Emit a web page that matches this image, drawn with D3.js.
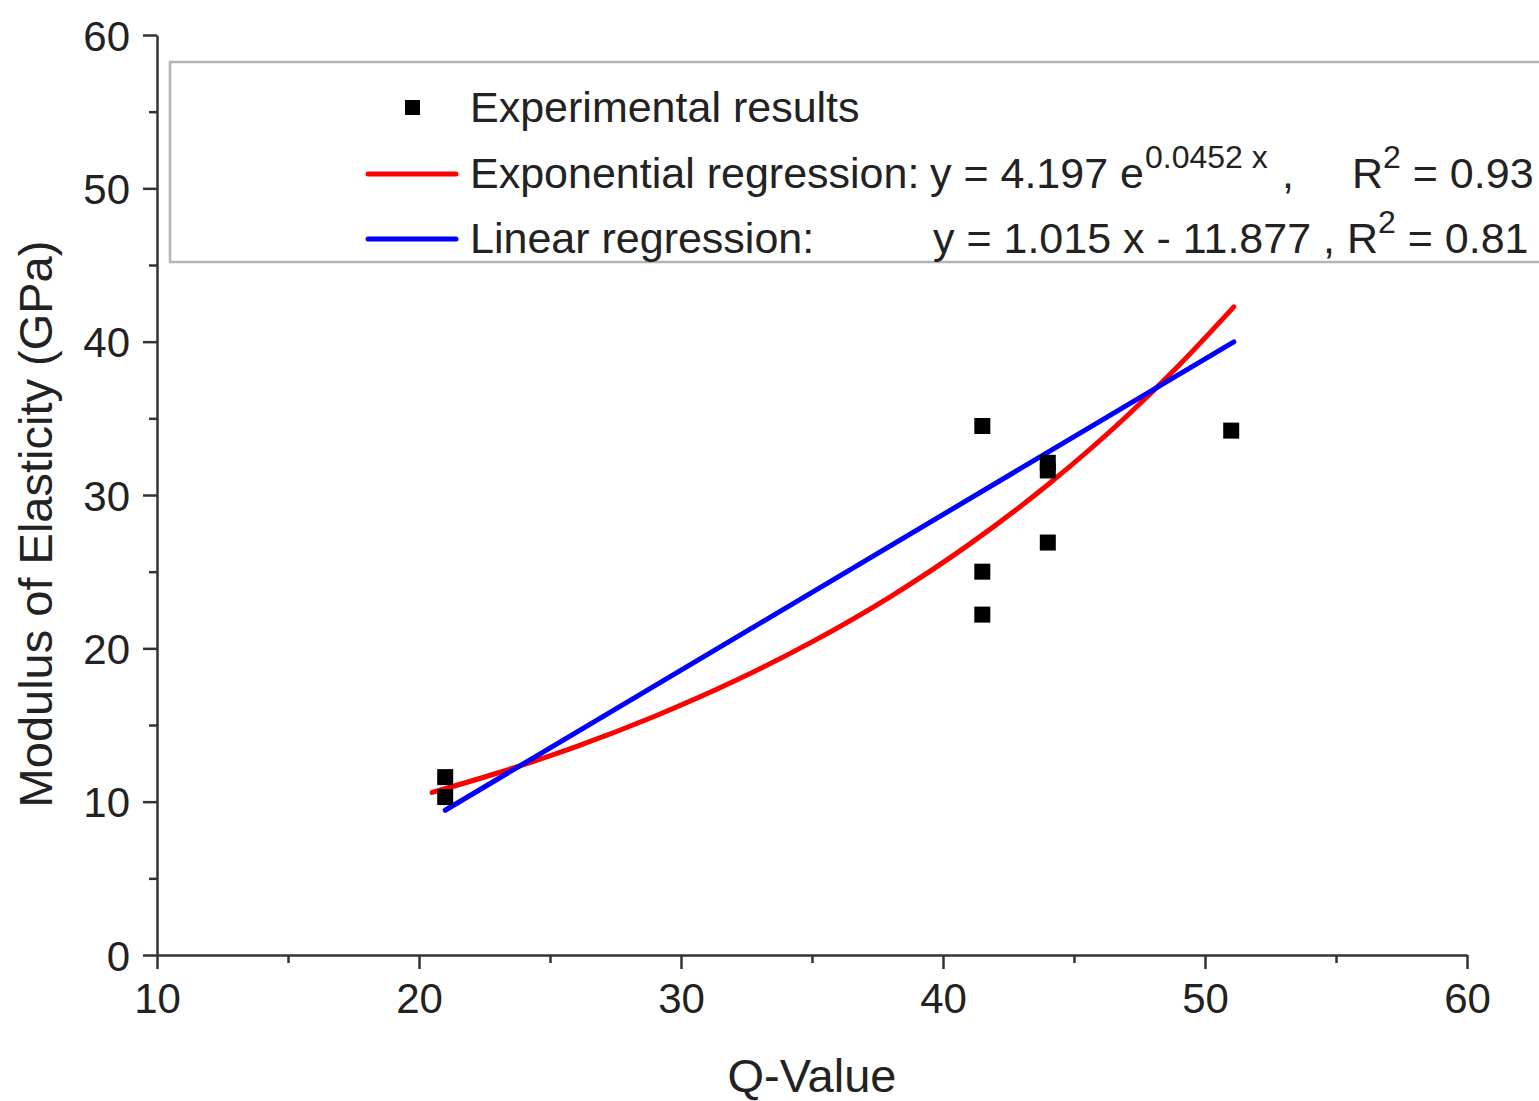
<!DOCTYPE html>
<html>
<head>
<meta charset="utf-8">
<script src="https://cdn.jsdelivr.net/npm/d3@7"></script>
<style>
    body { margin: 0; background: #fff; }
    svg { display: block; font-family: "Liberation Sans", Arial, sans-serif; }
    .axis path, .axis line { stroke: #333; stroke-width: 2.5; }
    .axis text { fill: #222; font-size: 42px; font-family: "Liberation Sans", Arial, sans-serif; }
    .label { fill: #222; font-size: 43px; }
    .title { fill: #222; font-size: 47px; }
</style>
</head>
<body>
<svg id="chart" width="1539" height="1101"></svg>
<script>
// data: experimental points
var q_values       = [21, 21, 41.5, 41.5, 41.5, 44, 44, 44, 51];
var modulus_values = [11.6, 10.3, 34.5, 25.0, 22.2, 32.1, 31.6, 26.9, 34.2];

// data: exponential regression curve
var exp_q       = [20.5, 23, 26, 29, 32, 35, 38, 41, 44, 47, 49, 51.1];
var exp_modulus = [10.60, 11.87, 13.59, 15.57, 17.83, 20.42, 23.38, 26.78, 30.67, 35.12, 38.45, 42.27];

// data: linear regression line
var lin_q       = [21, 51.1];
var lin_modulus = [9.44, 39.99];

// tick labels
var x_major = [10, 20, 30, 40, 50, 60];
var x_minor = [15, 25, 35, 45, 55];
var y_major = [0, 10, 20, 30, 40, 50, 60];
var y_minor = [5, 15, 25, 35, 45, 55];

// legend texts
var legend_labels = ['Experimental results', 'Exponential regression:', 'Linear regression:'];

// get canvas
var svg = d3.select('#chart');

// scales
var x = d3.scaleLinear().domain([10, 60]).range([157, 1467]);
var y = d3.scaleLinear().domain([0, 60]).range([955, 35]);

// minor ticks
svg.append('g')
    .attr('class', 'axis')
    .attr('transform', 'translate(0,955)')
    .call(d3.axisBottom(x).tickValues(x_minor).tickSize(8).tickSizeOuter(0).tickFormat(''))
    .select('.domain').remove();
svg.append('g')
    .attr('class', 'axis')
    .attr('transform', 'translate(157,0)')
    .call(d3.axisLeft(y).tickValues(y_minor).tickSize(8).tickSizeOuter(0).tickFormat(''))
    .select('.domain').remove();

// x axis
var x_axis = svg.append('g')
    .attr('class', 'axis')
    .attr('transform', 'translate(0,955)')
    .call(d3.axisBottom(x).tickValues(x_major).tickSize(14).tickSizeOuter(0).tickPadding(14));
x_axis.selectAll('text').attr('dy', '0.71em');

// y axis
var y_axis = svg.append('g')
    .attr('class', 'axis')
    .attr('transform', 'translate(157,0)')
    .call(d3.axisLeft(y).tickValues(y_major).tickSize(14).tickSizeOuter(0).tickPadding(13));
y_axis.selectAll('text').attr('dy', '0.36em');

// axis titles
svg.append('text')
    .attr('class', 'title')
    .attr('x', 812)
    .attr('y', 1092)
    .attr('text-anchor', 'middle')
    .text('Q-Value');
svg.append('text')
    .attr('class', 'title')
    .attr('transform', 'translate(52,524) rotate(-90)')
    .attr('text-anchor', 'middle')
    .text('Modulus of Elasticity (GPa)');

// line generator
var line = d3.line()
    .x(function(d) { return x(d[0]); })
    .y(function(d) { return y(d[1]); });

// exponential regression
svg.append('path')
    .datum(d3.zip(exp_q, exp_modulus))
    .attr('fill', 'none')
    .attr('stroke', '#ff0000')
    .attr('stroke-width', 5)
    .attr('stroke-linecap', 'round')
    .attr('d', line.curve(d3.curveMonotoneX));

// linear regression
svg.append('path')
    .datum(d3.zip(lin_q, lin_modulus))
    .attr('fill', 'none')
    .attr('stroke', '#0000ff')
    .attr('stroke-width', 5)
    .attr('stroke-linecap', 'round')
    .attr('d', line.curve(d3.curveLinear));

// experimental points
svg.append('g')
    .selectAll('rect')
    .data(d3.zip(q_values, modulus_values))
    .enter()
    .append('rect')
    .attr('x', function(d) { return x(d[0]) - 8; })
    .attr('y', function(d) { return y(d[1]) - 8; })
    .attr('width', 16)
    .attr('height', 16)
    .attr('fill', '#000');

// legend box
var legend = svg.append('g');
legend.append('rect')
    .attr('x', 170)
    .attr('y', 62)
    .attr('width', 1400)
    .attr('height', 200)
    .attr('fill', '#fff')
    .attr('stroke', '#b4b4b4')
    .attr('stroke-width', 2.5);

// legend symbols
legend.append('rect')
    .attr('x', 405).attr('y', 100)
    .attr('width', 15).attr('height', 15)
    .attr('fill', '#000');
legend.append('line')
    .attr('x1', 368).attr('x2', 456).attr('y1', 174).attr('y2', 174)
    .attr('stroke', '#ff0000').attr('stroke-width', 5).attr('stroke-linecap', 'round');
legend.append('line')
    .attr('x1', 368).attr('x2', 456).attr('y1', 239).attr('y2', 239)
    .attr('stroke', '#0000ff').attr('stroke-width', 5).attr('stroke-linecap', 'round');

// legend labels
var baselines = [122, 188, 253];
legend.selectAll('text.name')
    .data(legend_labels)
    .enter()
    .append('text')
    .attr('class', 'label name')
    .attr('x', 470)
    .attr('y', function(d, i) { return baselines[i]; })
    .text(function(d) { return d; });

// exponential equation
legend.append('text').attr('class', 'label').attr('x', 930).attr('y', 188).text('y = 4.197 e');
legend.append('text').attr('class', 'label').attr('x', 1145).attr('y', 168).style('font-size', '32px').text('0.0452 x');
legend.append('text').attr('class', 'label').attr('x', 1282).attr('y', 188).text(',');
var r_exp = legend.append('text').attr('class', 'label').attr('x', 1352).attr('y', 188);
r_exp.append('tspan').text('R');
r_exp.append('tspan').attr('dy', -20).style('font-size', '32px').text('2');
r_exp.append('tspan').attr('dy', 20).text(' = 0.93');

// linear equation
var r_lin = legend.append('text').attr('class', 'label').attr('x', 933).attr('y', 253);
r_lin.append('tspan').text('y = 1.015 x - 11.877 , R');
r_lin.append('tspan').attr('dy', -20).style('font-size', '32px').text('2');
r_lin.append('tspan').attr('dy', 20).text(' = 0.81');
</script>
</body>
</html>
